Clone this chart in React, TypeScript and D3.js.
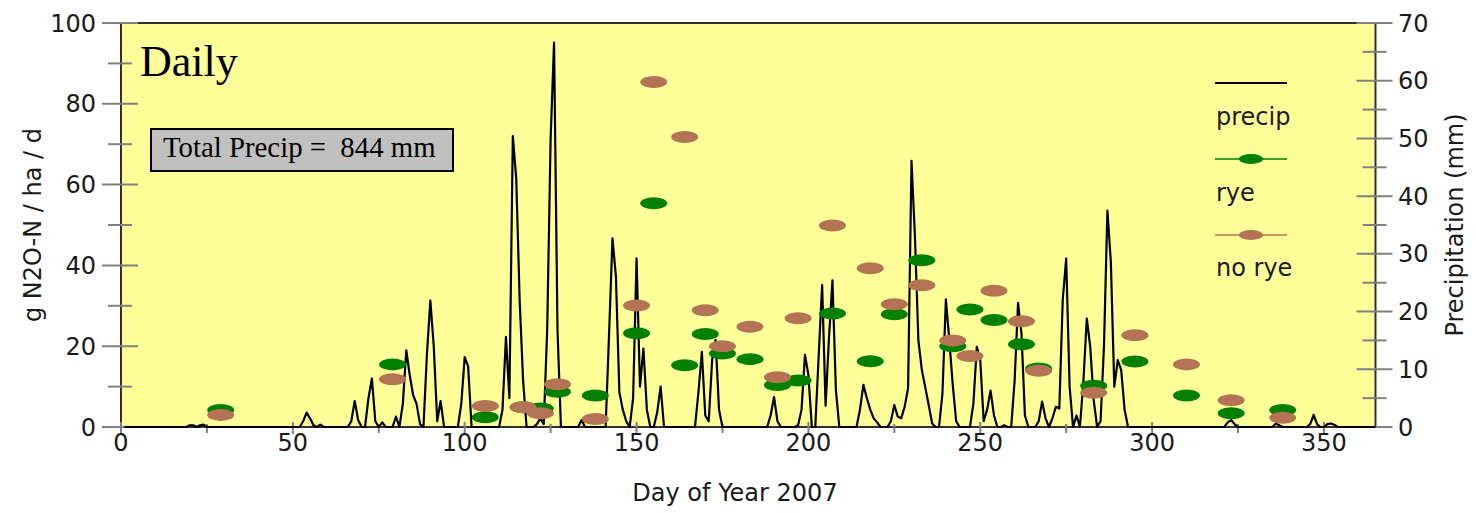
import React from 'react';
import * as d3 from 'd3';

// Axis ticks
const dayTicksMajor = [0, 50, 100, 150, 200, 250, 300, 350];
const dayTicksMinor = [25, 75, 125, 175, 225, 275, 325];
const fluxTicksMajor = [0, 20, 40, 60, 80, 100];
const fluxTicksMinor = [10, 30, 50, 70, 90];
const precipTicksMajor = [0, 10, 20, 30, 40, 50, 60, 70];
const precipTicksMinor = [5, 15, 25, 35, 45, 55, 65];

// Sampling days and daily N2O-N flux (g / ha / d)
const sampleDays = [29, 79, 106, 117, 122, 127, 138, 150, 155, 164, 170, 175, 183, 191, 197, 207, 218, 225, 233, 242, 247, 254, 262, 267, 283, 295, 310, 323, 338];
const ryeFlux = [4.2, 15.5, 2.4, 4.9, 4.6, 8.7, 7.8, 23.2, 55.4, 15.3, 23.0, 18.2, 16.8, 10.4, 11.5, 28.1, 16.3, 27.9, 41.3, 20.0, 29.1, 26.5, 20.5, 14.5, 10.2, 16.2, 7.8, 3.4, 4.2];
const noRyeFlux = [3.0, 11.8, 5.2, 4.9, 3.4, 10.6, 2.0, 30.1, 85.4, 71.8, 28.9, 20.0, 24.8, 12.3, 26.9, 49.9, 39.3, 30.4, 35.1, 21.4, 17.6, 33.7, 26.2, 13.9, 8.5, 22.7, 15.5, 6.6, 2.3];

// Days with rain: [day of year, precipitation mm]; all other days are dry
const precipEvents: [number, number][] = [
  [20, 0.3], [21, 0.3], [23, 0.3], [24, 0.4],
  [53, 1.0], [54, 2.5], [55, 1.5], [56, 0.3], [58, 0.4],
  [67, 1.0], [68, 4.5], [69, 1.2],
  [72, 5.0], [73, 8.4], [74, 1.0],
  [76, 0.8], [80, 1.8],
  [82, 4.0], [83, 13.3], [84, 9.0], [85, 5.5], [86, 4.0], [87, 0.5],
  [89, 12.5], [90, 21.9], [91, 14.0], [92, 1.0], [93, 4.5],
  [99, 4.0], [100, 12.1], [101, 10.5],
  [111, 3.0], [112, 15.6], [113, 5.0], [114, 50.4], [115, 43.0], [116, 21.8], [117, 8.0],
  [121, 0.5], [122, 1.5], [123, 0.5],
  [124, 16.8], [125, 50.0], [126, 66.6], [127, 16.8],
  [134, 1.2],
  [142, 16.0], [143, 32.7], [144, 26.0], [145, 6.0], [146, 3.0], [147, 1.0],
  [149, 5.0], [150, 29.2], [151, 7.0], [152, 13.6], [153, 3.0],
  [156, 2.5], [157, 7.0],
  [168, 6.0], [169, 13.0], [170, 2.0],
  [171, 1.0], [172, 11.7], [173, 15.1], [174, 3.0],
  [189, 2.0], [190, 5.2], [191, 1.0],
  [197, 0.3], [198, 3.0], [199, 12.5], [200, 9.0],
  [203, 12.4], [204, 24.6], [205, 3.7], [206, 15.6], [207, 25.4], [208, 6.4],
  [215, 3.0], [216, 7.3], [217, 5.0], [218, 3.0], [219, 1.5], [220, 0.8],
  [224, 1.0], [225, 3.8], [226, 1.8], [227, 1.5], [228, 3.5], [229, 6.7], [230, 46.1], [231, 33.0], [232, 15.0], [233, 9.9], [234, 6.9], [235, 3.8], [236, 0.6],
  [239, 5.8], [240, 22.1], [241, 15.0], [242, 7.3], [243, 1.0],
  [248, 4.0], [249, 13.9], [250, 11.6], [251, 1.0],
  [252, 3.0], [253, 6.3], [254, 2.0],
  [257, 0.3],
  [260, 8.0], [261, 21.5], [262, 16.2], [263, 2.0],
  [267, 1.0], [268, 4.4], [269, 1.5],
  [271, 1.5], [272, 3.5], [273, 3.2], [274, 22.0], [275, 29.2], [276, 7.0],
  [278, 2.0],
  [280, 7.8], [281, 18.8], [282, 13.9], [283, 4.7],
  [285, 1.0], [286, 14.0], [287, 37.5], [288, 28.6], [289, 7.0], [290, 11.6], [291, 9.9], [292, 3.0],
  [322, 0.8], [323, 1.2], [324, 0.5],
  [336, 0.6], [337, 0.3],
  [346, 0.5], [347, 2.1], [348, 0.5],
  [351, 0.5], [352, 0.6], [353, 0.4],
];

const SANS = "'DejaVu Sans', Verdana, sans-serif";
const SERIF = "'Liberation Serif', 'Times New Roman', serif";
const GREEN = '#008000';
const BROWN = '#b47355';
const PLOT_BG = '#ffff99';
const AXIS = '#303030';
const TICK = '#808080';
const TEXT = '#1a1a1a';

export default function App() {
  const W = 1476;
  const H = 513;
  const left = 121;
  const right = 1375.5;
  const top = 23;
  const bottom = 427;

  const x = d3.scaleLinear().domain([0, 365]).range([left, right]);
  const yFlux = d3.scaleLinear().domain([0, 100]).range([bottom, top]);
  const yPrecip = d3.scaleLinear().domain([0, 70]).range([bottom, top]);

  const rain = new Map<number, number>(precipEvents);
  const daily = d3.range(1, 366).map((d) => ({ day: d, mm: rain.get(d) ?? 0 }));
  const precipLine = d3
    .line<{ day: number; mm: number }>()
    .x((d) => x(d.day))
    .y((d) => yPrecip(d.mm));

  const markerRx = 13.5;
  const markerRy = 6;

  const legendX1 = 1215;
  const legendX2 = 1287;
  const legendMid = (legendX1 + legendX2) / 2;

  return (
    <div style={{ position: 'absolute', left: 0, top: 0 }}>
      <svg width={W} height={H} viewBox={`0 0 ${W} ${H}`} style={{ display: 'block', background: '#fff' }}>
        <rect x={left} y={top} width={right - left} height={bottom - top} fill={PLOT_BG} />

        {/* frame */}
        <rect x={left} y={top} width={right - left} height={bottom - top} fill="none" stroke={AXIS} strokeWidth={2} />

        {/* left axis ticks */}
        {fluxTicksMajor.map((t) => (
          <g key={`lf${t}`}>
            <line x1={left - 19} x2={left + 17} y1={yFlux(t)} y2={yFlux(t)} stroke={TICK} strokeWidth={2} />
            <text x={96} y={yFlux(t)} dy="0.36em" textAnchor="end" fontFamily={SANS} fontSize={24} fill={TEXT}>
              {t}
            </text>
          </g>
        ))}
        {fluxTicksMinor.map((t) => (
          <line key={`lfm${t}`} x1={left - 13} x2={left + 11} y1={yFlux(t)} y2={yFlux(t)} stroke={TICK} strokeWidth={2} />
        ))}

        {/* right axis ticks */}
        {precipTicksMajor.map((t) => (
          <g key={`rp${t}`}>
            <line x1={right - 19} x2={right + 17} y1={yPrecip(t)} y2={yPrecip(t)} stroke={TICK} strokeWidth={2} />
            <text x={1398} y={yPrecip(t)} dy="0.36em" textAnchor="start" fontFamily={SANS} fontSize={24} fill={TEXT}>
              {t}
            </text>
          </g>
        ))}
        {precipTicksMinor.map((t) => (
          <line key={`rpm${t}`} x1={right - 13} x2={right + 11} y1={yPrecip(t)} y2={yPrecip(t)} stroke={TICK} strokeWidth={2} />
        ))}

        {/* bottom axis ticks */}
        {dayTicksMajor.map((t) => (
          <g key={`bd${t}`}>
            <line x1={x(t)} x2={x(t)} y1={bottom - 5} y2={bottom + 7} stroke={TICK} strokeWidth={2} />
            <text x={x(t)} y={451} textAnchor="middle" fontFamily={SANS} fontSize={24} fill={TEXT}>
              {t}
            </text>
          </g>
        ))}
        {dayTicksMinor.map((t) => (
          <line key={`bdm${t}`} x1={x(t)} x2={x(t)} y1={bottom - 3} y2={bottom + 6} stroke={TICK} strokeWidth={2} />
        ))}

        {/* daily precipitation */}
        <path d={precipLine(daily) ?? ''} fill="none" stroke="#000" strokeWidth={2.2} strokeLinejoin="round" />

        {/* N2O flux markers */}
        {sampleDays.map((d, i) => (
          <ellipse key={`rye${d}`} cx={x(d)} cy={yFlux(ryeFlux[i])} rx={markerRx} ry={markerRy} fill={GREEN} />
        ))}
        {sampleDays.map((d, i) => (
          <ellipse key={`nor${d}`} cx={x(d)} cy={yFlux(noRyeFlux[i])} rx={markerRx} ry={markerRy} fill={BROWN} />
        ))}

        {/* titles inside the plot */}
        <text x={140} y={76} fontFamily={SERIF} fontSize={44} fill="#000">
          Daily
        </text>
        <rect x={151} y={129} width={302} height={42} fill="#c0c0c0" stroke="#000" strokeWidth={2} />
        <text x={163} y={157} fontFamily={SERIF} fontSize={28.8} fill="#000" style={{ whiteSpace: 'pre' }}>
          {'Total Precip =  844 mm'}
        </text>

        {/* legend */}
        <line x1={legendX1} x2={legendX2} y1={83} y2={83} stroke="#000" strokeWidth={2} />
        <text x={1216} y={125} fontFamily={SANS} fontSize={24} fill={TEXT}>precip</text>
        <line x1={legendX1} x2={legendX2} y1={159} y2={159} stroke={GREEN} strokeWidth={1.5} />
        <ellipse cx={legendMid} cy={159} rx={12} ry={5} fill={GREEN} />
        <text x={1216} y={201} fontFamily={SANS} fontSize={24} fill={TEXT}>rye</text>
        <line x1={legendX1} x2={legendX2} y1={235} y2={235} stroke={BROWN} strokeWidth={1.5} />
        <ellipse cx={legendMid} cy={235} rx={12} ry={5} fill={BROWN} />
        <text x={1216} y={276} fontFamily={SANS} fontSize={24} fill={TEXT}>no rye</text>

        {/* axis titles */}
        <text x={735} y={501} textAnchor="middle" fontFamily={SANS} fontSize={24} fill={TEXT}>
          Day of Year 2007
        </text>
        <text transform={`translate(41,${(top + bottom) / 2}) rotate(-90)`} textAnchor="middle" fontFamily={SANS} fontSize={24} fill={TEXT}>
          g N2O-N / ha / d
        </text>
        <text transform={`translate(1463,${(top + bottom) / 2}) rotate(-90)`} textAnchor="middle" fontFamily={SANS} fontSize={24} fill={TEXT}>
          Precipitation (mm)
        </text>
      </svg>
    </div>
  );
}
